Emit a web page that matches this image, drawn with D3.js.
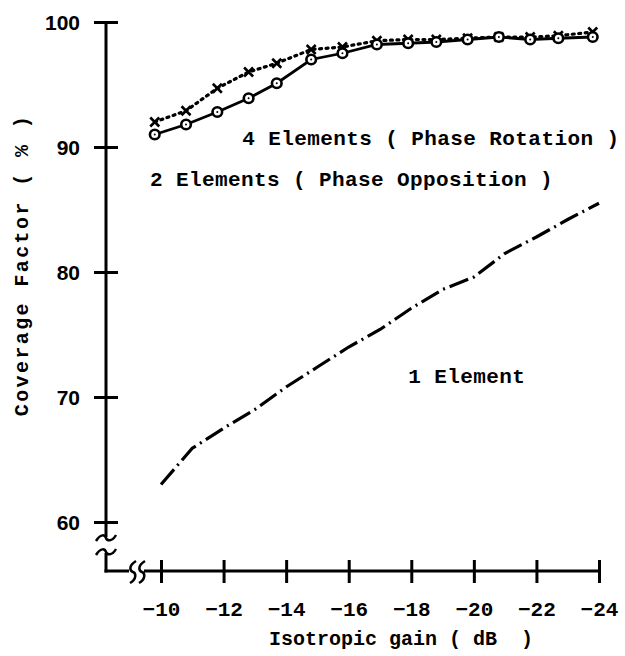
<!DOCTYPE html>
<html><head><meta charset="utf-8">
<script src="https://cdn.jsdelivr.net/npm/d3@7"></script>
<style>body{margin:0;background:#fff}svg{display:block}text{white-space:pre}</style>
</head><body>
<script>
// ---- data ----
const xTicks = [-10,-12,-14,-16,-18,-20,-22,-24];
const yTicks = [60,70,80,90,100];
// 1 Element (dash-dot)
const gain1 = [-10,-11,-12,-13,-14,-15,-16,-17,-18,-19,-20,-21,-22,-23,-24];
const cov1  = [63.0,65.9,67.5,69.0,70.8,72.4,74.0,75.4,77.1,78.6,79.6,81.5,82.8,84.2,85.5];
// 2 Elements (Phase Opposition) - solid with circles
const gain2 = [-9.8,-10.8,-11.8,-12.8,-13.7,-14.8,-15.8,-16.9,-17.9,-18.8,-19.8,-20.8,-21.8,-22.7,-23.8];
const cov2  = [91.0,91.8,92.8,93.9,95.1,97.0,97.5,98.2,98.3,98.4,98.6,98.8,98.6,98.7,98.8];
// 4 Elements (Phase Rotation) - dotted with crosses
const gain4 = [-9.8,-10.8,-11.8,-12.8,-13.7,-14.8,-15.8,-16.9,-17.9,-18.8,-19.8,-20.8,-21.8,-22.7,-23.8];
const cov4  = [92.0,92.9,94.7,96.0,96.7,97.8,98.0,98.5,98.6,98.6,98.7,98.8,98.8,98.9,99.2];
const labels = [
  {text:"4 Elements ( Phase Rotation )", g:-12.6, v:90.2},
  {text:"2 Elements ( Phase Opposition )", g:-9.65, v:86.9},
  {text:"1 Element", g:-17.9, v:71.1}
];

const W=625,H=656;
const svg=d3.select("body").append("svg").attr("width",W).attr("height",H);
const x=d3.scaleLinear().domain([-10,-24]).range([161,599]);
const y=d3.scaleLinear().domain([60,100]).range([522,22]);
const ax=106, ay=571;
const mono="'Liberation Mono', 'DejaVu Sans Mono', monospace";

// axis lines with breaks
const g=svg.append("g").attr("stroke","#000").attr("stroke-width",3).attr("fill","none");
g.append("line").attr("x1",ax).attr("x2",ax).attr("y1",y(100)).attr("y2",537);
g.append("line").attr("x1",ax).attr("x2",ax).attr("y1",553).attr("y2",ay+1.5);
g.append("line").attr("x1",ax-1.5).attr("x2",129).attr("y1",ay).attr("y2",ay);
g.append("line").attr("x1",144).attr("x2",x(-24)).attr("y1",ay).attr("y2",ay);
// break squiggles
const wavyH=(cx,cy)=>`M${cx-10},${cy+3} C${cx-5},${cy-5} ${cx-1},${cy-3} ${cx},${cy} S${cx+6},${cy+4} ${cx+10},${cy-3}`;
const wavyV=(cx,cy)=>`M${cx+3},${cy-11} C${cx-5},${cy-6} ${cx-3},${cy-1} ${cx},${cy} S${cx+4},${cy+7} ${cx-3},${cy+11}`;
g.append("path").attr("d",wavyH(ax,538)).attr("stroke-width",2.5);
g.append("path").attr("d",wavyH(ax,552)).attr("stroke-width",2.5);
g.append("path").attr("d",wavyV(133,572)).attr("stroke-width",2.5);
g.append("path").attr("d",wavyV(142,572)).attr("stroke-width",2.5);

// y axis ticks & labels
const yAxis=d3.axisLeft(y).tickValues(yTicks).tickSize(12).tickPadding(14);
const gy=svg.append("g").attr("transform",`translate(${ax},0)`).call(yAxis);
gy.select(".domain").remove();
gy.selectAll(".tick line").attr("x1",12).attr("stroke-width",3);
gy.selectAll(".tick text").attr("font-family","'Liberation Sans', Arial, sans-serif")
  .attr("font-weight","bold").attr("font-size",21).attr("fill","#000").attr("dy","0.36em");

// x axis ticks & labels
const xAxis=d3.axisBottom(x).tickValues(xTicks).tickSize(12).tickPadding(22);
const gx=svg.append("g").attr("transform",`translate(0,${ay})`).call(xAxis);
gx.select(".domain").remove();
gx.selectAll(".tick line").attr("y1",-11).attr("stroke-width",3);
gx.selectAll(".tick text").attr("font-family",mono).attr("font-weight","bold")
  .attr("font-size",21).attr("fill","#000").attr("dy","0.5em");

// titles
svg.append("text").attr("x",401).attr("y",645).attr("text-anchor","middle")
  .attr("font-family",mono).attr("font-weight","bold").attr("font-size",20)
  .text("Isotropic gain ( dB  )");
svg.append("text").attr("transform","translate(28,265) rotate(-90)").attr("text-anchor","middle")
  .attr("font-family",mono).attr("font-weight","bold").attr("font-size",20).attr("letter-spacing",2.4)
  .text("Coverage Factor ( % )");

// lines
const line=d3.line().x(d=>x(d[0])).y(d=>y(d[1]));
const d1=gain1.map((v,i)=>[v,cov1[i]]);
const d2=gain2.map((v,i)=>[v,cov2[i]]);
const d4=gain4.map((v,i)=>[v,cov4[i]]);
svg.append("path").attr("d",line(d1)).attr("fill","none").attr("stroke","#000")
  .attr("stroke-width",3.2).attr("stroke-dasharray","20,5,2,5");
svg.append("path").attr("d",line(d4)).attr("fill","none").attr("stroke","#000")
  .attr("stroke-width",3.2).attr("stroke-linecap","round").attr("stroke-dasharray","2,4.5");
svg.append("path").attr("d",line(d2)).attr("fill","none").attr("stroke","#000")
  .attr("stroke-width",2.8);
// crosses
svg.append("g").selectAll("path").data(d4).join("path")
  .attr("d",d=>{const cx=x(d[0]),cy=y(d[1]),s=4.5;return `M${cx-s},${cy-s}L${cx+s},${cy+s}M${cx+s},${cy-s}L${cx-s},${cy+s}`;})
  .attr("stroke","#000").attr("stroke-width",2.6);
// circles
svg.append("g").selectAll("circle").data(d2).join("circle")
  .attr("cx",d=>x(d[0])).attr("cy",d=>y(d[1])).attr("r",4.8)
  .attr("fill","#fff").attr("stroke","#000").attr("stroke-width",2.6);
svg.append("g").selectAll("circle").data(d2).join("circle")
  .attr("cx",d=>x(d[0])).attr("cy",d=>y(d[1])).attr("r",1).attr("fill","#000");

// series labels
svg.append("g").selectAll("text").data(labels).join("text")
  .attr("x",d=>x(d.g)).attr("y",d=>y(d.v)).attr("font-family",mono).attr("font-weight","bold")
  .attr("font-size",21).attr("letter-spacing",0.4).text(d=>d.text);
</script>
</body></html>
